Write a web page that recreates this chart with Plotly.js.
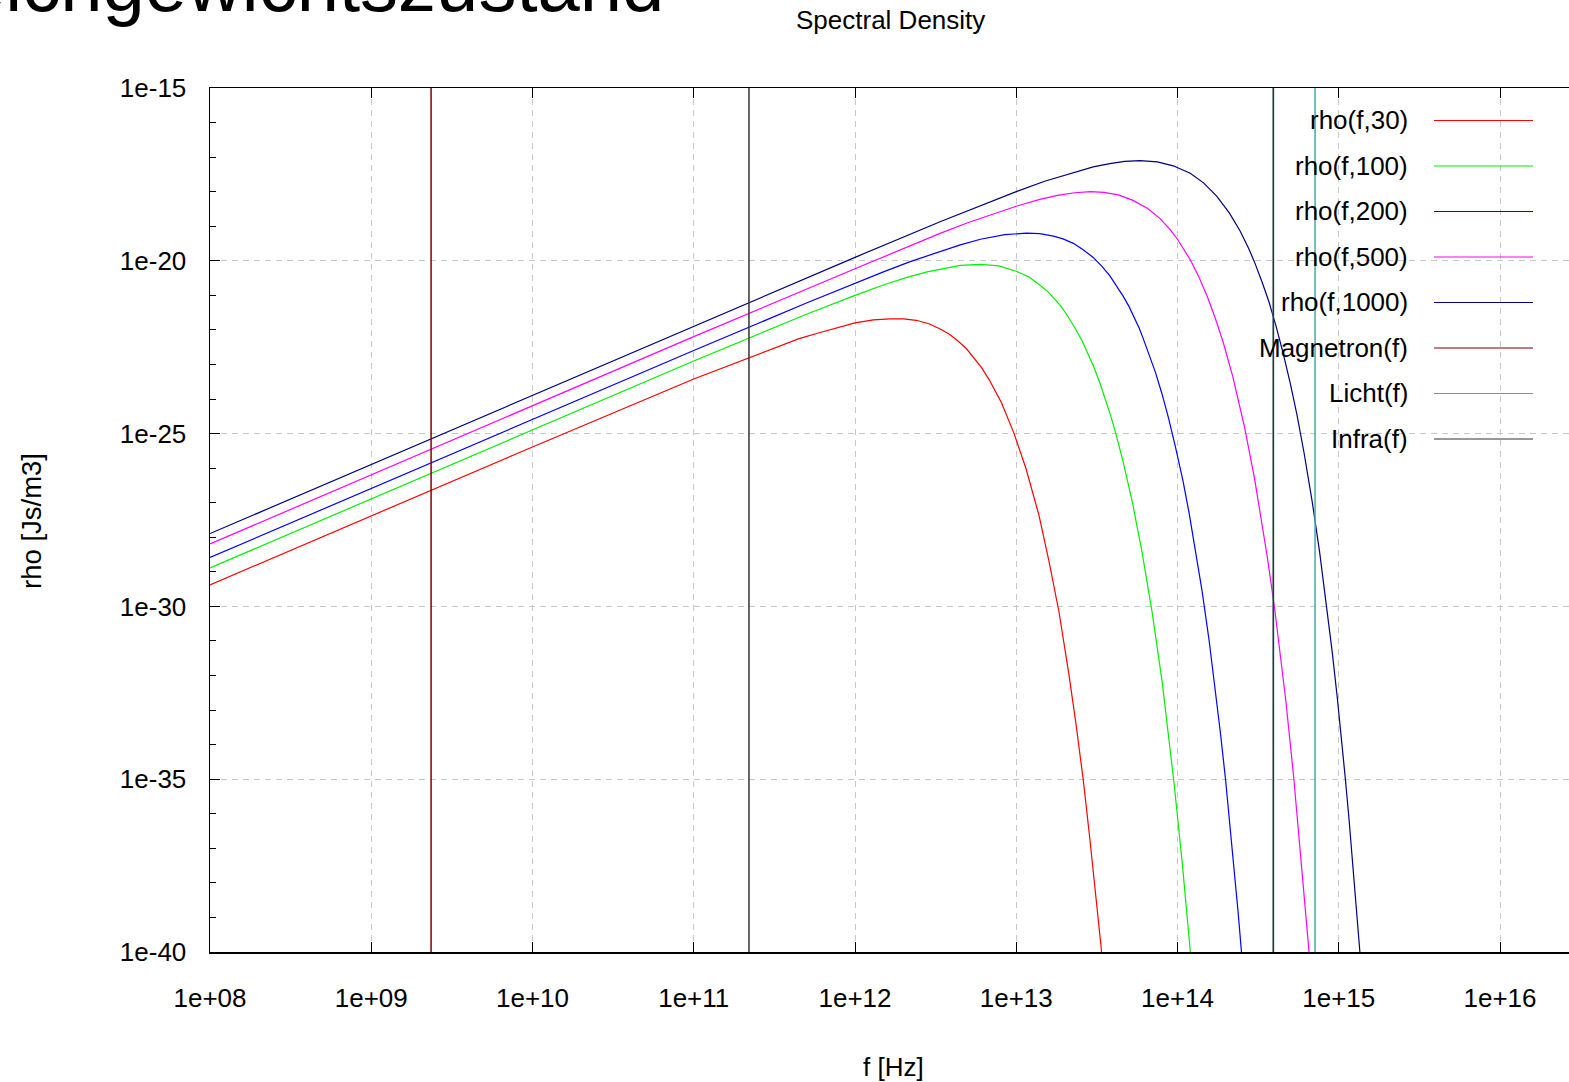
<!DOCTYPE html>
<html>
<head>
<meta charset="utf-8">
<script src="https://cdn.plot.ly/plotly-3.0.1.min.js"></script>
<style>
  html, body { margin: 0; padding: 0; background: #ffffff; overflow: hidden; }
  #chart { width: 1620px; height: 1082px; }
</style>
</head>
<body>
<div id="chart"></div>
<script>
// Spectral energy density rho(f,T) [Js/m3] against frequency f [Hz]
const freqT30 = [1e8, 1e9, 1e10, 1e11, 2.5e11, 4.5e11, 6e11, 8.1e11, 1e12, 1.3e12, 1.65e12, 2.0e12, 2.4e12, 2.9e12, 3.4e12, 3.85e12, 4.3e12, 4.9e12, 5.5e12, 6.1e12, 6.8e12, 8.1e12, 9.7e12, 1.15e13, 1.38e13, 1.6e13, 1.84e13, 2.12e13, 2.35e13, 2.6e13, 2.85e13, 3.07e13, 3.35e13, 3.6e13];
const rhoT30 = [4.2e-30, 4.2e-28, 4.1e-26, 3.8e-24, 1.95e-23, 5.6e-23, 8.3e-23, 1.23e-22, 1.6e-22, 1.95e-22, 2.1e-22, 2.1e-22, 1.9e-22, 1.48e-22, 1.05e-22, 7.5e-23, 5.0e-23, 2.9e-23, 1.5e-23, 8.1e-24, 3.6e-24, 7.8e-25, 1.0e-25, 9.6e-27, 4.5e-28, 1.9e-29, 7.0e-31, 1.1e-32, 3.8e-34, 1.0e-35, 2.2e-37, 8.0e-39, 1.6e-40, 2.8e-42];

const freqT100 = [1e8, 1e9, 1e10, 1e11, 5e11, 8.1e11, 1e12, 1.5e12, 2.1e12, 2.8e12, 3.5e12, 4.5e12, 6.0e12, 7.8e12, 1e13, 1.2e13, 1.4e13, 1.58e13, 1.75e13, 1.9e13, 2.06e13, 2.3e13, 2.55e13, 2.8e13, 3.0e13, 3.3e13, 3.57e13, 3.85e13, 4.13e13, 4.6e13, 5.24e13, 6.0e13, 6.97e13, 8.04e13, 9.5e13, 1.07e14, 1.2e14, 1.3e14];
const rhoT100 = [1.3e-29, 1.3e-27, 1.3e-25, 1.26e-23, 2.85e-22, 6.9e-22, 1.0e-21, 2.0e-21, 3.3e-21, 4.8e-21, 6.0e-21, 7.4e-21, 7.9e-21, 7.1e-21, 5.0e-21, 3.4e-21, 2.0e-21, 1.24e-21, 7.4e-22, 4.7e-22, 2.75e-22, 1.2e-22, 5.0e-23, 2.0e-23, 9.3e-24, 2.95e-24, 1.0e-24, 3.3e-25, 1.07e-25, 1.55e-26, 1.07e-27, 4.2e-29, 6.5e-31, 6.3e-33, 8.3e-36, 3.8e-38, 1.05e-40, 1.1e-42];

const freqT200 = [1e8, 1e9, 1e10, 1e11, 5e11, 8.1e11, 1e12, 1.5e12, 2.2e12, 3.4e12, 4.5e12, 6.0e12, 8.5e12, 1.16e13, 1.4e13, 1.7e13, 1.95e13, 2.26e13, 2.6e13, 3.0e13, 3.4e13, 3.8e13, 4.2e13, 4.6e13, 5.0e13, 5.4e13, 5.8e13, 6.1e13, 6.6e13, 7.3e13, 8.0e13, 8.8e13, 9.7e13, 1.08e14, 1.18e14, 1.3e14, 1.42e14, 1.57e14, 1.72e14, 1.85e14, 1.99e14, 2.15e14, 2.38e14, 2.5e14];
const rhoT200 = [2.6e-29, 2.6e-27, 2.6e-25, 2.55e-23, 6.0e-22, 1.53e-21, 2.3e-21, 4.8e-21, 9.5e-21, 1.9e-20, 2.9e-20, 4.2e-20, 5.7e-20, 6.3e-20, 6.1e-20, 5.2e-20, 4.3e-20, 3.2e-20, 2.1e-20, 1.25e-20, 6.9e-21, 3.7e-21, 1.9e-21, 9.5e-22, 4.8e-22, 2.3e-22, 1.1e-22, 6.0e-23, 2.1e-23, 5.9e-24, 1.45e-24, 2.8e-25, 4.2e-26, 4.4e-27, 5.1e-28, 3.8e-29, 2.8e-30, 1.05e-31, 3.7e-33, 2.0e-34, 8.9e-36, 2.4e-37, 1.3e-39, 8.5e-41];

const freqT500 = [1e8, 1e9, 1e10, 1e11, 1e12, 2e12, 3.4e12, 5e12, 7e12, 1e13, 1.4e13, 1.8e13, 2.3e13, 2.9e13, 3.5e13, 4.3e13, 5.3e13, 6.5e13, 7.8e13, 9e13, 1.0e14, 1.1e14, 1.2e14, 1.35e14, 1.53e14, 1.72e14, 1.92e14, 2.2e14, 2.6e14, 3.0e14, 3.3e14, 3.6e14, 4.0e14, 4.35e14, 4.7e14, 5.25e14, 6.0e14, 6.55e14];
const rhoT500 = [6.4e-29, 6.4e-27, 6.4e-25, 6.4e-23, 5.9e-21, 2.3e-20, 6.3e-20, 1.26e-19, 2.2e-19, 3.8e-19, 6.0e-19, 7.8e-19, 9.3e-19, 1.0e-18, 9.5e-19, 8.1e-19, 5.6e-19, 3.3e-19, 1.66e-19, 8.0e-20, 4.2e-20, 2.1e-20, 1.07e-20, 3.6e-21, 9.3e-22, 2.1e-22, 4.4e-23, 4.5e-24, 1.6e-25, 5.2e-27, 3.9e-28, 2.8e-29, 9.0e-31, 3.8e-32, 1.8e-33, 1.2e-35, 1.3e-38, 9.5e-41];

const freqT1000 = [1e8, 1e9, 1e10, 1e11, 1e12, 3.4e12, 6e12, 1e13, 1.5e13, 2.26e13, 3.0e13, 3.8e13, 4.7e13, 5.85e13, 7.5e13, 9.4e13, 1.2e14, 1.45e14, 1.75e14, 2.1e14, 2.44e14, 2.75e14, 3.0e14, 3.35e14, 3.7e14, 4.1e14, 4.5e14, 5.0e14, 5.5e14, 6.1e14, 6.84e14, 7.6e14, 8.45e14, 9.1e14, 9.8e14, 1.04e15, 1.1e15, 1.16e15, 1.22e15, 1.28e15, 1.35e15, 1.45e15];
const rhoT1000 = [1.28e-28, 1.28e-26, 1.28e-24, 1.28e-22, 1.26e-20, 1.37e-19, 4.0e-19, 1.0e-18, 2.0e-18, 3.6e-18, 5.2e-18, 6.5e-18, 7.5e-18, 7.9e-18, 7.3e-18, 5.6e-18, 3.4e-18, 1.8e-18, 7.4e-19, 2.4e-19, 7.4e-20, 2.4e-20, 9.3e-21, 2.4e-21, 6.3e-22, 1.2e-22, 2.3e-23, 2.9e-24, 3.6e-25, 2.7e-26, 1.1e-27, 3.9e-29, 9.1e-31, 5.0e-32, 2.2e-33, 1.5e-34, 9.8e-36, 6.4e-37, 4.2e-38, 2.7e-39, 1.1e-40, 1.1e-42];

// Marker frequencies drawn as vertical lines [Hz]
const magnetronFreq = [2.35e9];
const lichtFreq = [3.93e14, 7.13e14];
const infraFreq = [2.2e11, 3.93e14];

// Axis ticks
const xTickVals = [1e8, 1e9, 1e10, 1e11, 1e12, 1e13, 1e14, 1e15, 1e16];
const xTickText = ['1e+08', '1e+09', '1e+10', '1e+11', '1e+12', '1e+13', '1e+14', '1e+15', '1e+16'];
const yTickVals = [1e-40, 1e-35, 1e-30, 1e-25, 1e-20, 1e-15];
const yTickText = ['1e-40', '1e-35', '1e-30', '1e-25', '1e-20', '1e-15'];
const yMinorVals = [1e-39, 1e-38, 1e-37, 1e-36, 1e-34, 1e-33, 1e-32, 1e-31, 1e-29, 1e-28, 1e-27, 1e-26,
                    1e-24, 1e-23, 1e-22, 1e-21, 1e-19, 1e-18, 1e-17, 1e-16];

// Page geometry
const W = 1620, H = 1082;
const M = { l: 210, r: 0, t: 88, b: 130 };
const plotW = W - M.l - M.r;
const plotH = H - M.t - M.b;
const decadePx = 161.25;
const xRange = [8, 8 + plotW / decadePx];
const yRange = [-40, -15];
const px = x => (x - M.l) / plotW;
const py = y => (H - M.b - y) / plotH;

const FONT = 'Liberation Sans, Arial, Helvetica, sans-serif';
const FS = 26;

const curves = [
  { name: 'rho(f,30)',   f: freqT30,   r: rhoT30,   color: '#ff0000' },
  { name: 'rho(f,100)',  f: freqT100,  r: rhoT100,  color: '#00f000' },
  { name: 'rho(f,200)',  f: freqT200,  r: rhoT200,  color: '#0000ff' },
  { name: 'rho(f,500)',  f: freqT500,  r: rhoT500,  color: '#ff00ff' },
  { name: 'rho(f,1000)', f: freqT1000, r: rhoT1000, color: '#000080' }
];
const markers = [
  { name: 'Magnetron(f)', f: magnetronFreq, color: '#800000' },
  { name: 'Licht(f)',     f: lichtFreq,     color: '#4aa9a9' },
  { name: 'Infra(f)',     f: infraFreq,     color: '#333333' }
];

const traces = [];
curves.forEach(c => {
  traces.push({
    type: 'scatter', mode: 'lines', name: c.name, x: c.f, y: c.r,
    line: { color: c.color, width: 1.2 }, showlegend: false, hoverinfo: 'skip'
  });
});
const yLo = Math.pow(10, yRange[0]), yHi = Math.pow(10, yRange[1]);
markers.forEach(m => {
  const xs = [], ys = [];
  m.f.forEach(v => { xs.push(v, v, null); ys.push(yLo, yHi, null); });
  traces.push({
    type: 'scatter', mode: 'lines', name: m.name, x: xs, y: ys,
    line: { color: m.color, width: 1.5 }, showlegend: false, hoverinfo: 'skip'
  });
});

// Key: label right-aligned, sample line to its right
const keyItems = curves.concat(markers);
const keyTop = 120.5, keyStep = 45.5;
const shapes = [
  // blank area behind the key hides the grid there
  { type: 'rect', xref: 'paper', yref: 'paper', layer: 'between',
    x0: px(1145), x1: px(1547), y0: py(463), y1: 1,
    fillcolor: '#ffffff', line: { width: 0 } }
];
const annotations = [];
keyItems.forEach((k, i) => {
  const y = keyTop + i * keyStep;
  annotations.push({
    xref: 'paper', yref: 'paper', x: px(1410), y: py(y), xanchor: 'right', yanchor: 'middle',
    text: k.name, showarrow: false, font: { family: FONT, size: FS, color: '#000' }
  });
  shapes.push({
    type: 'line', xref: 'paper', yref: 'paper', layer: 'above',
    x0: px(1434), x1: px(1533), y0: py(y), y1: py(y),
    line: { color: k.color, width: 1.2 }
  });
});

// Titles
annotations.push({
  xref: 'paper', yref: 'paper', x: px(890.5), y: py(37.5), xanchor: 'center', yanchor: 'bottom',
  text: 'Spectral Density', showarrow: false, font: { family: FONT, size: FS, color: '#000' }
});
annotations.push({
  xref: 'paper', yref: 'paper', x: px(666), y: py(29), xanchor: 'right', yanchor: 'bottom',
  text: 'Gleichgewichtszustand', showarrow: false, font: { family: FONT, size: 76, color: '#000' }
});
annotations.push({
  xref: 'paper', yref: 'paper', x: px(893.5), y: py(1084), xanchor: 'center', yanchor: 'bottom',
  text: 'f [Hz]', showarrow: false, font: { family: FONT, size: FS, color: '#000' }
});
annotations.push({
  xref: 'paper', yref: 'paper', x: px(31), y: py(521), xanchor: 'center', yanchor: 'middle',
  textangle: -90, text: 'rho [Js/m3]', showarrow: false, font: { family: FONT, size: 27.5, color: '#000' }
});

const gridStyle = { showgrid: true, gridcolor: '#c8c8c8', gridwidth: 1, griddash: '6px,5px' };

const layout = {
  width: W, height: H,
  margin: M,
  paper_bgcolor: '#ffffff', plot_bgcolor: '#ffffff',
  font: { family: FONT, size: FS, color: '#000' },
  showlegend: false,
  xaxis: Object.assign({
    type: 'log', range: xRange, autorange: false,
    tickmode: 'array', tickvals: xTickVals, ticktext: xTickText,
    ticks: 'inside', ticklen: 10, tickwidth: 1, tickcolor: '#000',
    showline: true, linecolor: '#000', linewidth: 1.5, mirror: 'ticks',
    zeroline: false, ticklabelstandoff: 22,
    tickfont: { family: FONT, size: FS, color: '#000' }
  }, gridStyle),
  yaxis: Object.assign({
    type: 'log', range: yRange, autorange: false,
    tickmode: 'array', tickvals: yTickVals, ticktext: yTickText,
    ticks: 'inside', ticklen: 10, tickwidth: 1, tickcolor: '#000',
    showline: true, linecolor: '#000', linewidth: 1.5, mirror: 'ticks',
    zeroline: false, ticklabelstandoff: 17,
    tickfont: { family: FONT, size: FS, color: '#000' },
    minor: { tickmode: 'array', tickvals: yMinorVals, ticks: 'inside', ticklen: 6,
             tickwidth: 1, tickcolor: '#000', showgrid: false }
  }, gridStyle),
  shapes: shapes,
  annotations: annotations
};

Plotly.newPlot('chart', traces, layout, { staticPlot: true, displayModeBar: false });
</script>
</body>
</html>
